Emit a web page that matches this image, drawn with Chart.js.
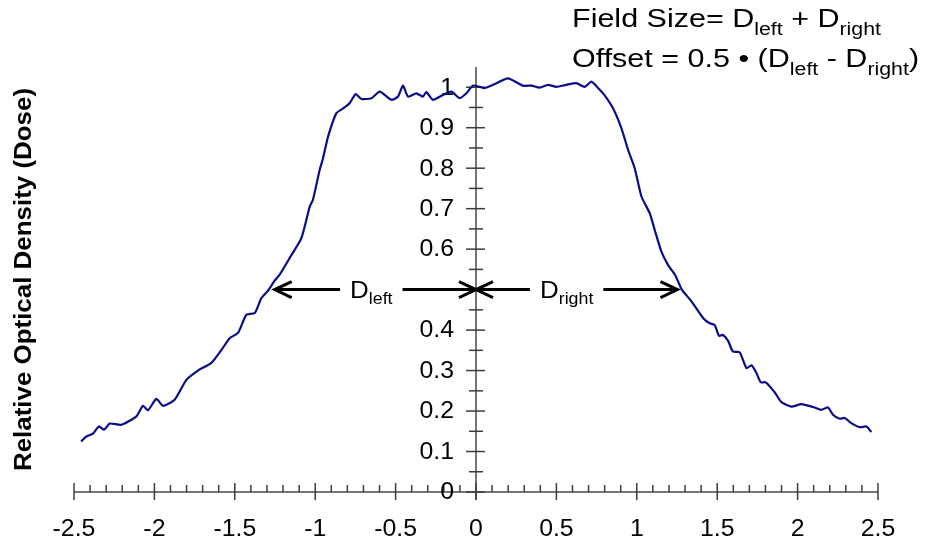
<!DOCTYPE html>
<html>
<head>
<meta charset="utf-8">
<style>
  html, body { margin: 0; padding: 0; background: #fff; }
  #chart { display: block; }
</style>
<script src="https://cdn.jsdelivr.net/npm/chart.js@4/dist/chart.umd.min.js"></script>
</head>
<body>
<canvas id="chart" width="934" height="548"></canvas>
<script>
(() => {
  "use strict";

  // film scan across the field: off-axis position vs. relative optical density
  const position = [
    -2.456, -2.423, -2.382, -2.345, -2.313, -2.278, -2.205, -2.112, -2.071, -2.040,
    -1.988, -1.947, -1.874, -1.801, -1.729, -1.646, -1.583, -1.532, -1.480, -1.428,
    -1.376, -1.335, -1.294, -1.252, -1.221, -1.159, -1.086, -1.034, -1.014, -0.972,
    -0.951, -0.920, -0.868, -0.817, -0.785, -0.748, -0.713, -0.650, -0.599, -0.526,
    -0.485, -0.454, -0.423, -0.371, -0.330, -0.309, -0.267, -0.205, -0.153, -0.101,
    -0.060, -0.019, 0.023, 0.054, 0.127, 0.199, 0.292, 0.345, 0.396, 0.448,
    0.500, 0.562, 0.624, 0.676, 0.718, 0.759, 0.800, 0.852, 0.904, 0.946,
    0.987, 1.029, 1.080, 1.111, 1.153, 1.194, 1.240, 1.280, 1.340, 1.412,
    1.453, 1.484, 1.511, 1.536, 1.567, 1.598, 1.640, 1.682, 1.713, 1.744,
    1.771, 1.802, 1.858, 1.899, 1.961, 2.024, 2.096, 2.148, 2.189, 2.220,
    2.262, 2.293, 2.334, 2.386, 2.428, 2.459
  ];
  const density = [
    0.125, 0.137, 0.144, 0.162, 0.154, 0.169, 0.166, 0.187, 0.213, 0.202,
    0.230, 0.213, 0.228, 0.277, 0.300, 0.319, 0.351, 0.380, 0.393, 0.438,
    0.442, 0.479, 0.497, 0.522, 0.537, 0.578, 0.627, 0.705, 0.722, 0.796,
    0.825, 0.878, 0.936, 0.950, 0.961, 0.983, 0.971, 0.973, 0.989, 0.969,
    0.977, 1.004, 0.977, 0.985, 0.977, 0.988, 0.969, 0.981, 0.989, 0.973,
    0.985, 1.004, 1.001, 0.998, 1.010, 1.022, 1.004, 1.004, 0.999, 1.006,
    1.001, 1.006, 1.010, 1.001, 1.014, 0.998, 0.980, 0.948, 0.899, 0.845,
    0.800, 0.730, 0.689, 0.648, 0.594, 0.561, 0.535, 0.500, 0.471, 0.430,
    0.417, 0.413, 0.386, 0.388, 0.374, 0.347, 0.345, 0.306, 0.313, 0.294,
    0.271, 0.271, 0.246, 0.222, 0.211, 0.217, 0.210, 0.203, 0.209, 0.191,
    0.181, 0.183, 0.170, 0.160, 0.162, 0.148
  ];

  const xRange = [-2.5, 2.5];
  const yRange = [0, 1.05];
  const xMajor = 0.5, xMinor = 0.1;
  const yMajor = 0.1, yMinor = 0.05;
  const hiddenYLabels = [0.5];          // covered by the D arrows
  const halfWidth = [-1.252, 1.253];    // 50% crossings: D_left, D_right
  const halfLevel = 0.5;
  const yTitle = "Relative Optical Density (Dose)";

  const FONT = "'Liberation Sans', Arial, Helvetica, sans-serif";
  const LINE = "#0c0c8a";
  const AXIS = "#767676";
  const TICK = "#3c3c3c";
  const SX = 1.08;   // axis text is drawn slightly wide
  const SX_NOTE = 1.22;

  const isMajor = (v, step) => Math.abs(v / step - Math.round(v / step)) < 1e-6;
  const fmt = (v) => String(+v.toFixed(2));

  function seg(ctx, x1, y1, x2, y2) {
    ctx.beginPath(); ctx.moveTo(x1, y1); ctx.lineTo(x2, y2); ctx.stroke();
  }

  function widthOf(ctx, s, font, sx = SX) { ctx.font = font; return ctx.measureText(s).width * sx; }

  function text(ctx, s, x, y, font, align = "left", base = "alphabetic", sx = SX) {
    const w = widthOf(ctx, s, font, sx);
    const x0 = align === "right" ? x - w : align === "center" ? x - w / 2 : x;
    ctx.save();
    ctx.font = font; ctx.textAlign = "left"; ctx.textBaseline = base;
    ctx.translate(x0, y); ctx.scale(sx, 1);
    ctx.fillText(s, 0, 0);
    ctx.restore();
    return w;
  }

  // runs of normal text and subscripts, e.g. D + "left"
  function rich(ctx, parts, x, y, size, subSize, subDrop, align = "left", sx = SX) {
    const main = `${size}px ${FONT}`, sub = `${subSize}px ${FONT}`;
    const total = parts.reduce((a, p) => a + widthOf(ctx, p.t, p.sub ? sub : main, sx), 0);
    let cx = align === "center" ? x - total / 2 : x;
    for (const p of parts) {
      cx += text(ctx, p.t, cx, p.sub ? y + subDrop : y, p.sub ? sub : main, "left", "alphabetic", sx);
    }
    return total;
  }

  function head(ctx, tipX, y, dir) {
    ctx.beginPath();
    ctx.moveTo(tipX - dir * 17, y - 8);
    ctx.lineTo(tipX, y);
    ctx.lineTo(tipX - dir * 17, y + 8);
    ctx.stroke();
  }

  const crossAxes = {
    id: "crossAxes",
    beforeDatasetsDraw(chart) {
      const { ctx, scales: { x, y } } = chart;
      const x0 = x.getPixelForValue(0), y0 = y.getPixelForValue(0);
      ctx.save();
      ctx.lineCap = "butt";
      ctx.strokeStyle = AXIS; ctx.lineWidth = 2;
      seg(ctx, x.left, y0, x.right, y0);
      seg(ctx, x0, y.top, x0, y0 + 8);

      ctx.strokeStyle = TICK; ctx.lineWidth = 1.5;
      x.ticks.forEach((t) => {
        const px = x.getPixelForValue(t.value);
        if (isMajor(t.value, xMajor)) seg(ctx, px, y0 - 9, px, y0 + 8);
        else seg(ctx, px, y0 - 7, px, y0);
      });
      y.ticks.forEach((t) => {
        if (t.value >= yRange[1] - 1e-9) return;
        const py = y.getPixelForValue(t.value);
        if (isMajor(t.value, yMajor)) seg(ctx, x0 - 10, py, x0 + 9, py);
        else seg(ctx, x0 - 7, py, x0 + 7, py);
      });

      ctx.fillStyle = "#000";
      const tickFont = `23px ${FONT}`;
      x.ticks.forEach((t) => {
        if (!isMajor(t.value, xMajor)) return;
        text(ctx, fmt(t.value), x.getPixelForValue(t.value), y0 + 38, tickFont, "center", "middle");
      });
      y.ticks.forEach((t) => {
        if (!isMajor(t.value, yMajor) || t.value > 1 + 1e-9) return;
        if (hiddenYLabels.some((h) => Math.abs(h - t.value) < 1e-6)) return;
        text(ctx, fmt(t.value), x0 - 22, y.getPixelForValue(t.value) + 1, tickFont, "right", "middle");
      });

      // rotated axis title
      ctx.save();
      ctx.translate(24, (y.top + y.bottom) / 2);
      ctx.rotate(-Math.PI / 2);
      text(ctx, yTitle, 0, 0, `bold 24px ${FONT}`, "center", "middle");
      ctx.restore();
      ctx.restore();
    },
    afterDatasetsDraw(chart) {
      const { ctx, scales: { x, y } } = chart;
      const x0 = x.getPixelForValue(0);
      const ya = y.getPixelForValue(halfLevel);
      const [xl, xr] = halfWidth.map((v) => x.getPixelForValue(v));
      ctx.save();
      ctx.strokeStyle = "#000"; ctx.lineWidth = 3; ctx.lineJoin = "miter";
      seg(ctx, xl + 2, ya, x0 - 2, ya);
      seg(ctx, x0 + 2, ya, xr - 2, ya);
      head(ctx, xl, ya, -1); head(ctx, x0, ya, 1);
      head(ctx, x0, ya, -1); head(ctx, xr, ya, 1);

      // labels sit in a white gap on each arrow
      const labels = [
        { cx: xl + 0.48 * (x0 - xl), parts: [{ t: "D" }, { t: "left", sub: true }] },
        { cx: x0 + 0.45 * (xr - x0), parts: [{ t: "D" }, { t: "right", sub: true }] },
      ];
      ctx.fillStyle = "#000";
      for (const l of labels) {
        const w = l.parts.reduce((a, p) => a + widthOf(ctx, p.t, `${p.sub ? 16.5 : 24}px ${FONT}`), 0);
        ctx.save(); ctx.fillStyle = "#fff";
        ctx.fillRect(l.cx - w / 2 - 10, ya - 8, w + 20, 16);
        ctx.restore();
        rich(ctx, l.parts, l.cx, ya + 8, 24, 16.5, 6, "center");
      }

      // field size / offset definitions
      rich(ctx, [{ t: "Field Size= D" }, { t: "left", sub: true }, { t: " + D" }, { t: "right", sub: true }],
        572, 27, 25, 17.5, 8, "left", SX_NOTE);
      rich(ctx, [{ t: "Offset = 0.5 \u2022 (D" }, { t: "left", sub: true }, { t: " - D" }, { t: "right", sub: true }, { t: ")" }],
        572, 67, 25, 17.5, 8, "left", SX_NOTE);
      ctx.restore();
    },
  };

  new Chart(document.getElementById("chart"), {
    type: "line",
    data: {
      datasets: [{
        data: position.map((p, i) => ({ x: p, y: density[i] })),
        borderColor: LINE, borderWidth: 2.2, pointRadius: 0, tension: 0.2, fill: false,
      }],
    },
    options: {
      responsive: false, animation: false, devicePixelRatio: 1,
      layout: { padding: { left: 74, right: 56, top: 67, bottom: 56 } },
      plugins: { legend: { display: false }, tooltip: { enabled: false } },
      scales: {
        x: { type: "linear", min: xRange[0], max: xRange[1], display: false,
             ticks: { stepSize: xMinor, maxTicksLimit: 200, autoSkip: false } },
        y: { type: "linear", min: yRange[0], max: yRange[1], display: false,
             ticks: { stepSize: yMinor, maxTicksLimit: 200, autoSkip: false } },
      },
    },
    plugins: [crossAxes],
  });
})();
</script>
</body>
</html>
